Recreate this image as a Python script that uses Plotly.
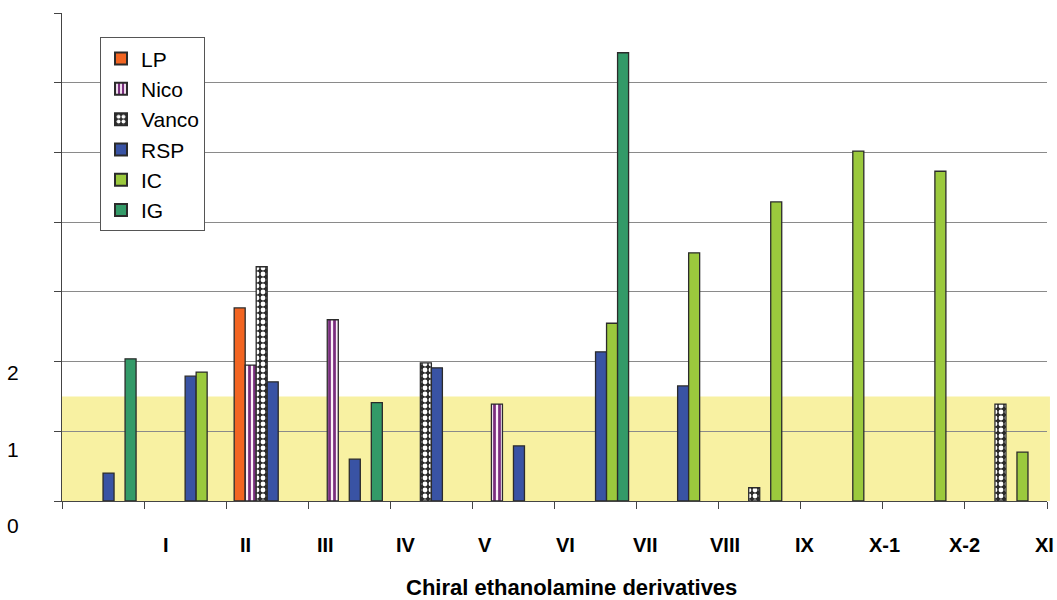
import plotly.graph_objects as go

categories = ["g1", "g2", "g3", "g4", "g5", "g6", "g7", "g8", "g9", "g10", "g11", "g12"]
tick_labels = ["I", "II", "III", "IV", "V", "VI", "VII", "VIII", "IX", "X-1", "X-2", "XI"]

LP    = [None, None, 2.77, None, None, None, None, None, None, None, None, None]
Nico  = [None, None, 1.95, 2.60, None, 1.39, None, None, None, None, None, None]
Vanco = [None, None, 3.36, None, 1.98, None, None, None, 0.19, None, None, 1.39]
RSP   = [0.40, 1.79, 1.71, 0.60, 1.91, 0.79, 2.14, 1.65, None, None, None, None]
IC    = [None, 1.85, None, None, None, None, 2.55, 3.56, 4.29, 5.02, 4.73, 0.70]
IG    = [2.04, None, None, 1.41, None, None, 6.43, None, None, None, None, None]

y_labels = ["0", "1", "2"]
y_max = 7
threshold = 1.5

FONT = "Liberation Sans, Arial, sans-serif"
OUT = dict(color="#2b2b2b", width=1.3)

fig = go.Figure()
fig.add_bar(name="LP", x=categories, y=LP, marker=dict(color="#F26522", line=OUT))
fig.add_bar(name="Nico", x=categories, y=Nico,
            marker=dict(color="#FBF0F9", line=OUT,
                        pattern=dict(shape="|", fgcolor="#7A2D7E", bgcolor="#FBF0F9",
                                     fgopacity=1, size=5, solidity=0.55, fillmode="overlay")))
fig.add_bar(name="Vanco", x=categories, y=Vanco,
            marker=dict(color="#2a2a2a", line=OUT,
                        pattern=dict(shape=".", fgcolor="white", bgcolor="#2a2a2a",
                                     fgopacity=1, size=6, solidity=0.5, fillmode="overlay")))
fig.add_bar(name="RSP", x=categories, y=RSP, marker=dict(color="#3953A4", line=OUT))
fig.add_bar(name="IC", x=categories, y=IC, marker=dict(color="#9BC93D", line=OUT))
fig.add_bar(name="IG", x=categories, y=IG, marker=dict(color="#339A68", line=OUT))

# threshold band
fig.add_shape(type="rect", xref="paper", yref="y", x0=0, x1=1.003, y0=0, y1=threshold,
              fillcolor="#F8F1A2", line=dict(width=0), layer="below")

# category labels (offset to the right as in the original)
for k, lab in enumerate(tick_labels):
    xpos = -0.5 + (104 + k * 79.73) / 82.0
    fig.add_annotation(x=xpos, y=-0.09, xref="x", yref="paper", text=f"<b>{lab}</b>",
                       showarrow=False, font=dict(family=FONT, size=20, color="black"),
                       xanchor="center", yanchor="middle")

# y labels (displaced below their gridlines, as in the original)
for i, lab in enumerate(y_labels):
    fig.add_annotation(x=-0.05, y=(-24 + 76 * i) / 488.0, xref="paper", yref="paper", text=lab,
                       showarrow=False, font=dict(family=FONT, size=21, color="black"),
                       xanchor="center", yanchor="middle")

fig.add_annotation(x=0.517, y=-0.178, xref="paper", yref="paper",
                   text="<b>Chiral ethanolamine derivatives</b>", showarrow=False,
                   font=dict(family=FONT, size=22, color="black"),
                   xanchor="center", yanchor="middle")

fig.update_layout(
    width=1057, height=600,
    margin=dict(l=62, r=10, t=13, b=99),
    paper_bgcolor="white", plot_bgcolor="white",
    barmode="group", bargap=0.195, bargroupgap=0,
    font=dict(family=FONT, color="black"),
    legend=dict(x=0.0386, y=0.95, xanchor="left", yanchor="top",
                bgcolor="white", bordercolor="#555555", borderwidth=1,
                font=dict(family=FONT, size=21), tracegroupgap=0,
                itemsizing="constant"),
    showlegend=True,
)
fig.update_xaxes(type="category", showticklabels=False, ticks="outside", ticklen=7,
                 tickson="boundaries", tickcolor="#444444", showline=True,
                 linecolor="#444444", linewidth=1, showgrid=False, zeroline=False,
                 range=[-0.5, 11.5])
fig.update_yaxes(range=[0, y_max], dtick=1, showticklabels=False, ticks="outside", ticklen=7,
                 tickcolor="#444444", showline=True, linecolor="#444444", linewidth=1,
                 showgrid=True, gridcolor="#8a8a8a", gridwidth=1, zeroline=False)

fig.write_html("out.html", config={"displayModeBar": False},
               post_script="document.body.style.margin='0';document.body.style.overflow='hidden';")
